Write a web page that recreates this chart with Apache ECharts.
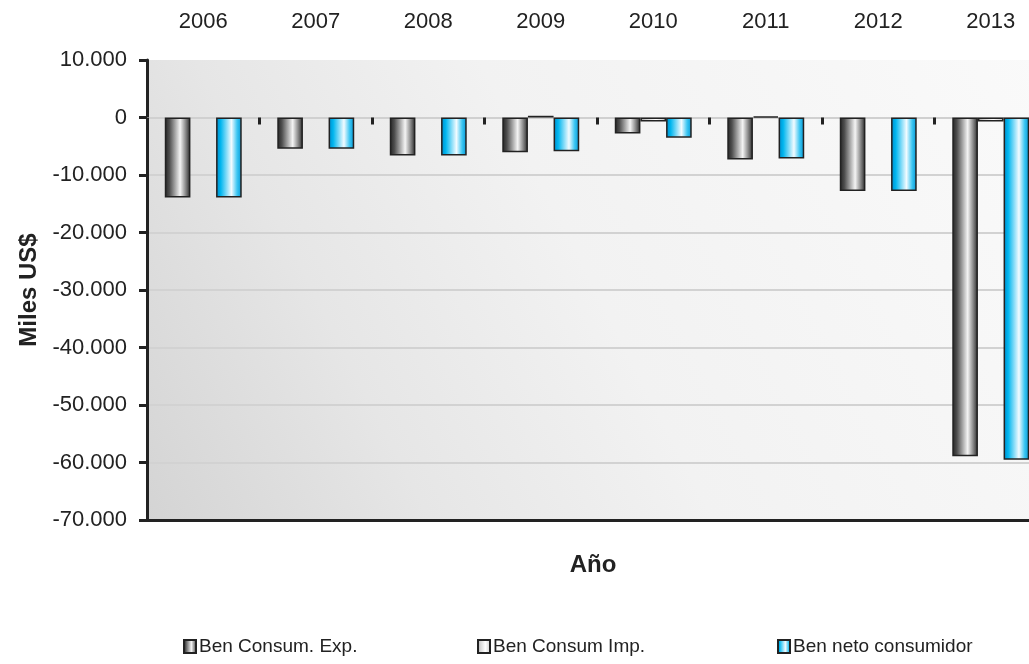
<!DOCTYPE html>
<html>
<head>
<meta charset="utf-8">
<script src="https://cdn.jsdelivr.net/npm/echarts@6/dist/echarts.min.js"></script>
<style>
html,body{margin:0;padding:0;background:#fff;}
#c{width:1029px;height:664px;}
</style>
</head>
<body>
<div id="c"></div>
<script>
const categories = ['2006','2007','2008','2009','2010','2011','2012','2013'];
const benConsumExp = [-13900, -5450, -6600, -6050, -2800, -7300, -12800, -58900];
const benConsumImp = [null, null, null, 300, -700, 200, null, -700];
const benNetoConsumidor = [-13900, -5450, -6600, -5850, -3500, -7150, -12800, -59500];
const seriesNames = ['Ben Consum. Exp.', 'Ben Consum Imp.', 'Ben neto consumidor'];
const yTicks = {min: -70000, max: 10000, interval: 10000};

const FONT = "'Liberation Sans', Arial, Helvetica, sans-serif";

function grad(stops){
  return {type:'linear', x:0, y:0, x2:1, y2:0,
    colorStops: stops.map(s => ({offset:s[0], color:s[1]}))};
}
const grayGrad = grad([[0,'#222222'],[0.18,'#4e4e4e'],[0.6,'#f4f4f4'],[0.8,'#909090'],[1,'#262626']]);
const lightGrad = grad([[0,'#a0a0a0'],[0.2,'#d0d0d0'],[0.6,'#ffffff'],[0.85,'#dcdcdc'],[1,'#a8a8a8']]);
const blueGrad = grad([[0,'#0088c8'],[0.18,'#00b6ef'],[0.6,'#f2fbff'],[0.82,'#3cc6f2'],[1,'#0096d6']]);

function fmt(v){
  const s = Math.abs(v).toString().replace(/\B(?=(\d{3})+(?!\d))/g, '.');
  return (v < 0 ? '-' : '') + s;
}

const chart = echarts.init(document.getElementById('c'), null, {renderer:'canvas'});
const legendBase = {
  orient:'horizontal', top: 632, itemWidth: 12, itemHeight: 13, itemGap: 5,
  textStyle:{fontFamily: FONT, fontSize: 19, color:'#222', padding:[0,0,0,-2]},
  icon: 'rect'
};
const splitColors = ['#d2d2d2','#d2d2d2','#d2d2d2','#d2d2d2','#d2d2d2','#d2d2d2','#d2d2d2','#d2d2d2','rgba(0,0,0,0)'];
chart.setOption({
  animation:false,
  backgroundColor:'#ffffff',
  grid:{
    left:147, top:60, width:900, height:460, show:true, borderWidth:0,
    outerBoundsMode:'none', containLabel:false,
    backgroundColor:{type:'linear', x:0, y:1, x2:1, y2:0,
      colorStops:[{offset:0,color:'#d4d4d4'},{offset:0.25,color:'#e6e6e6'},{offset:0.5,color:'#f2f2f2'},{offset:1,color:'#fafafa'}]}
  },
  legend:[
    Object.assign({}, legendBase, {left:178, data:[seriesNames[0]]}),
    Object.assign({}, legendBase, {left:472, data:[seriesNames[1]]}),
    Object.assign({}, legendBase, {left:772, data:[seriesNames[2]]})
  ],
  graphic:[{
    type:'text', x: 593, y: 553,
    style:{text:'Año', font:"bold 24px 'Liberation Sans', Arial, sans-serif", fill:'#222', align:'center', verticalAlign:'top'}
  }],
  xAxis:[
    {type:'category', data:categories, position:'bottom',
     axisLine:{onZero:false, lineStyle:{color:'#222', width:3}},
     axisTick:{show:false}, axisLabel:{show:false}, splitLine:{show:false}},
    {type:'category', data:categories, position:'top',
     axisLine:{show:false, onZero:false}, axisTick:{show:false},
     axisLabel:{show:true, margin:27, fontFamily:FONT, fontSize:22, color:'#222'},
     splitLine:{show:false}},
    {type:'category', data:categories, position:'bottom',
     axisLine:{show:true, onZero:true, onZeroAxisIndex:0, lineStyle:{color:'#d0d0d0', width:2}},
     axisTick:{show:true, length:7, lineStyle:{color:'#222', width:3}},
     axisLabel:{show:false}, splitLine:{show:false}}
  ],
  yAxis:{
    type:'value', min:yTicks.min, max:yTicks.max, interval:yTicks.interval,
    name:'Miles US$', nameLocation:'middle', nameGap:95, nameRotate:90,
    nameTextStyle:{fontFamily:FONT, fontWeight:'bold', fontSize:24, color:'#222'},
    axisLine:{show:true, onZero:false, lineStyle:{color:'#222', width:3}},
    axisTick:{show:true, length:8, lineStyle:{color:'#222', width:3}},
    axisLabel:{margin:20, fontFamily:FONT, fontSize:22, color:'#222', formatter:fmt},
    splitLine:{show:true, lineStyle:{color:splitColors, width:2}}
  },
  series:[
    {name:seriesNames[0], type:'bar', xAxisIndex:0, data:benConsumExp, barGap:'0%', barCategoryGap:'31.6%',
     itemStyle:{color:grayGrad, borderColor:'#222', borderWidth:1.5}},
    {name:seriesNames[1], type:'bar', xAxisIndex:0, data:benConsumImp, barGap:'0%', barCategoryGap:'31.6%',
     itemStyle:{color:lightGrad, borderColor:'#222', borderWidth:1.5}},
    {name:seriesNames[2], type:'bar', xAxisIndex:0, data:benNetoConsumidor, barGap:'0%', barCategoryGap:'31.6%',
     itemStyle:{color:blueGrad, borderColor:'#222', borderWidth:1.5}}
  ]
});
</script>
</body>
</html>
